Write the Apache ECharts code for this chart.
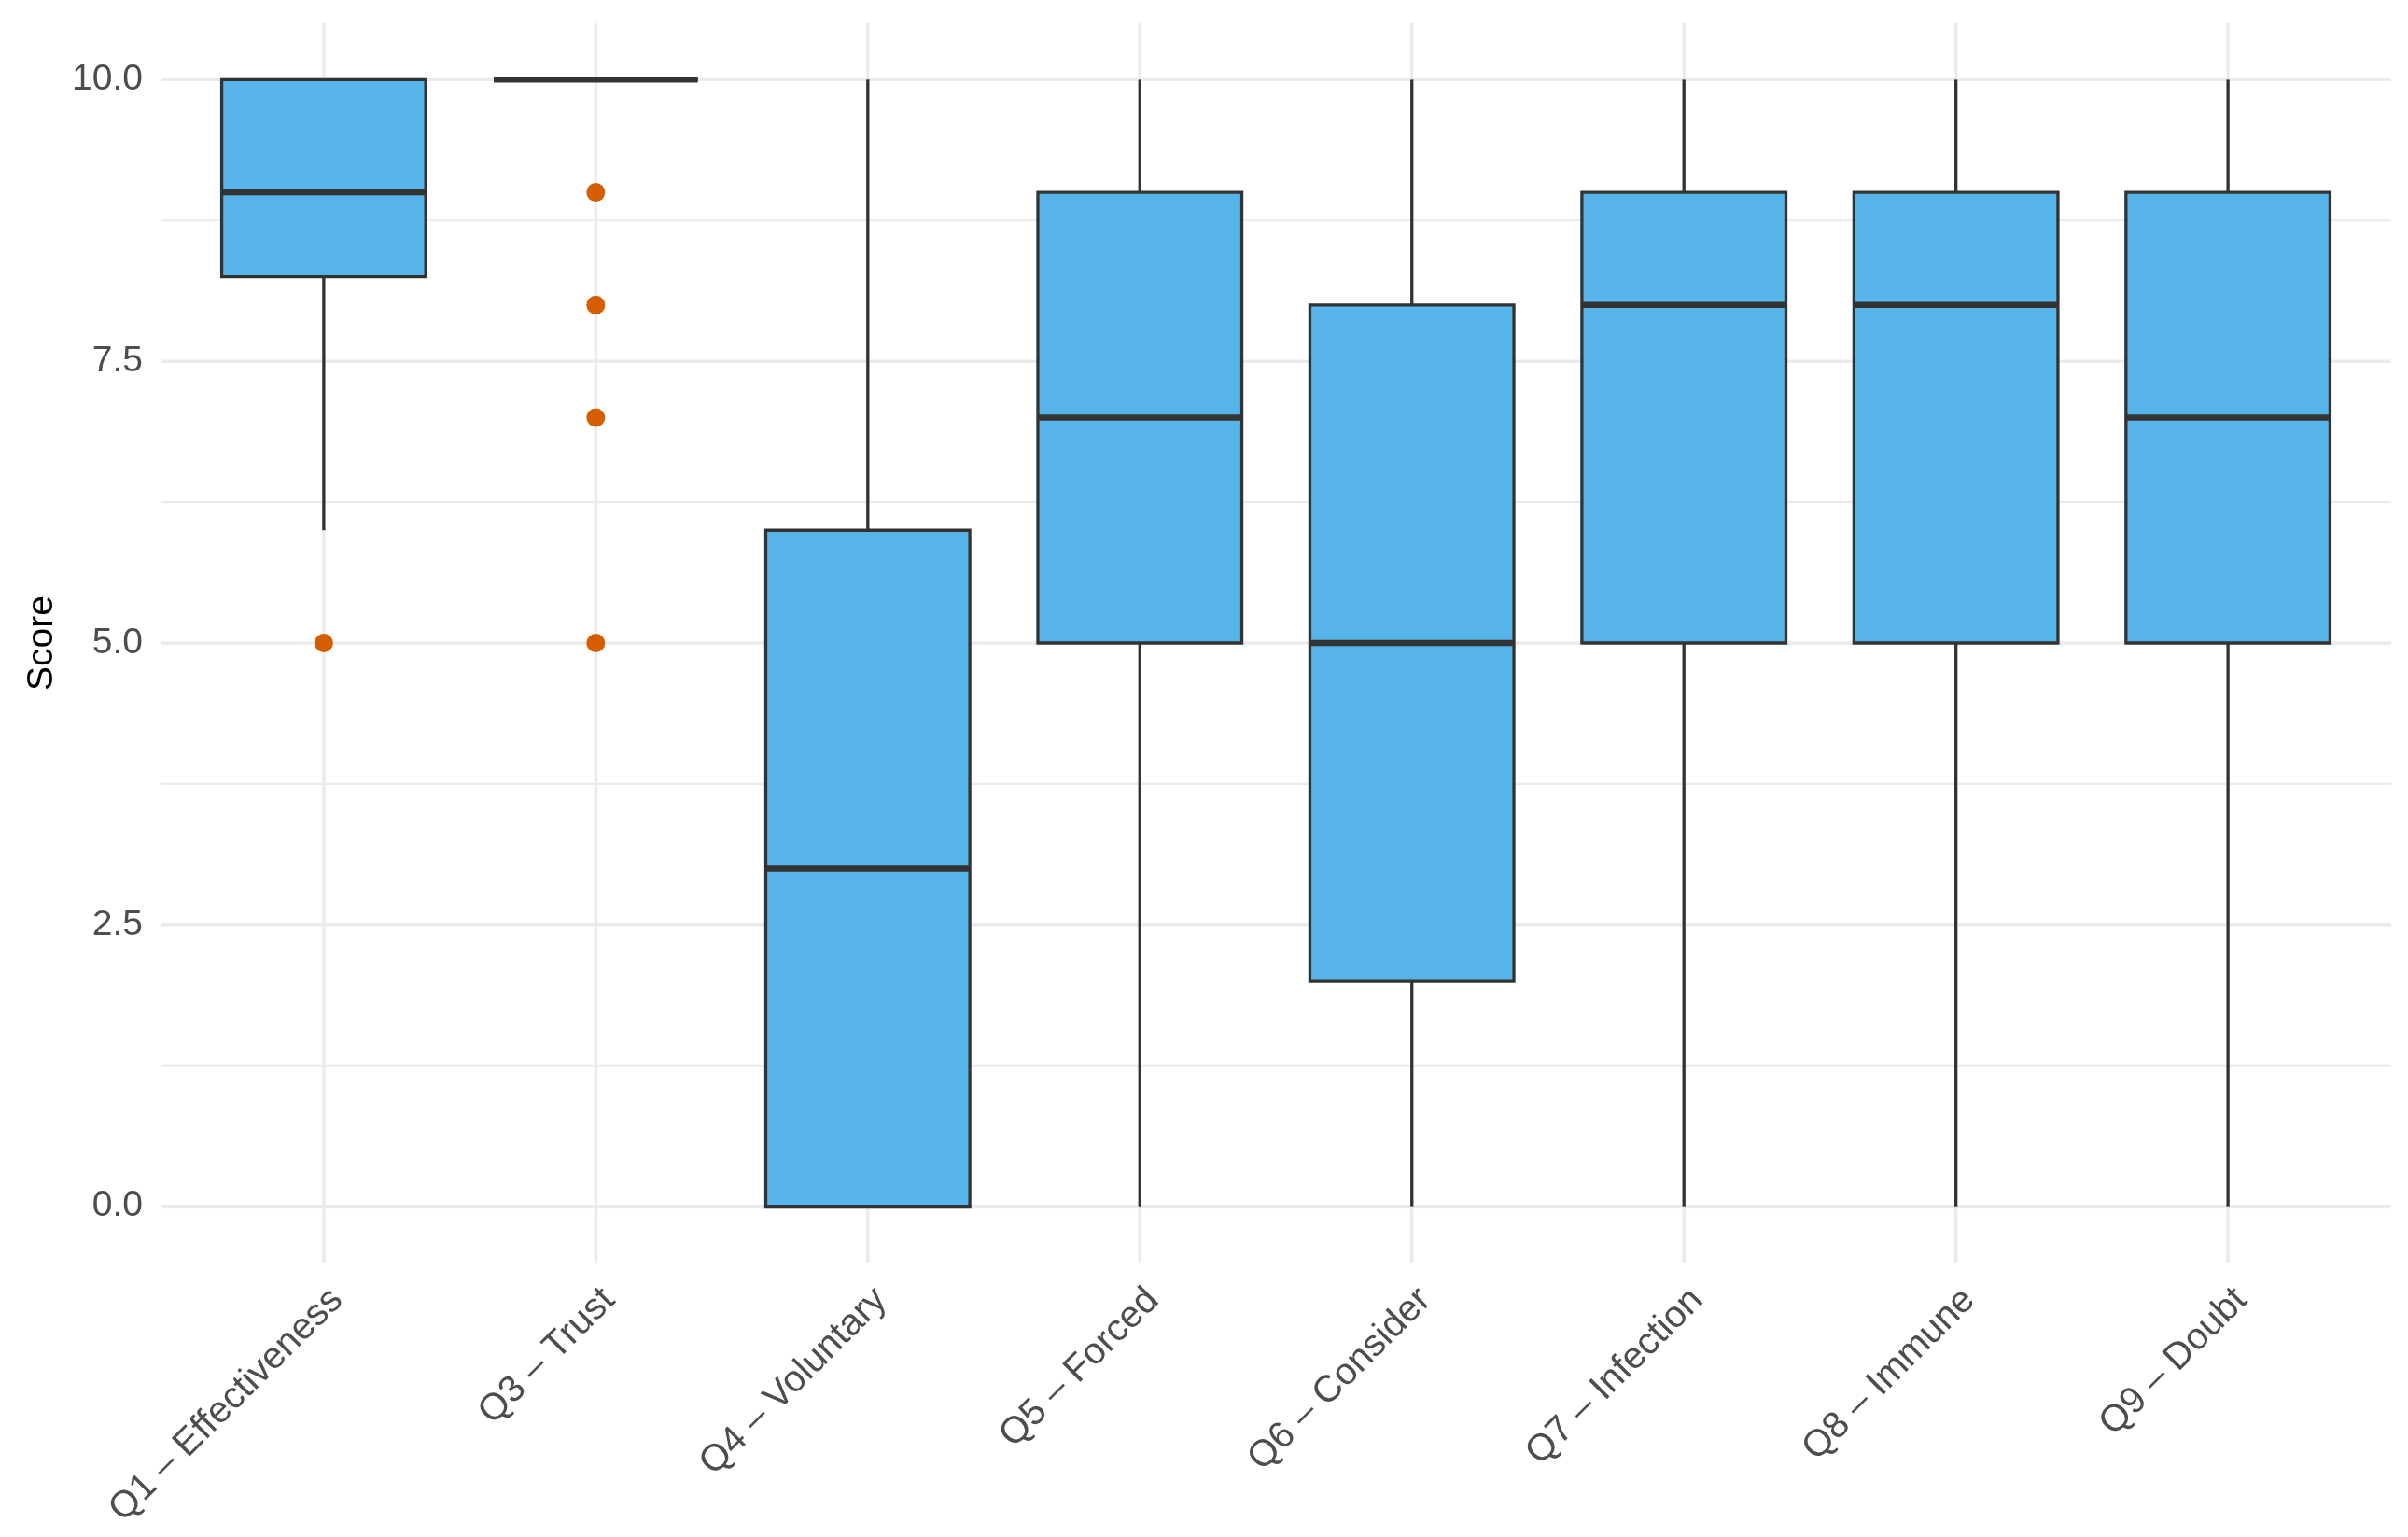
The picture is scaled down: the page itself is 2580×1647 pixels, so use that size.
<!DOCTYPE html>
<html lang="en">
<head>
    <meta charset="UTF-8">
    <title>Score by question</title>
    <script src="https://cdn.jsdelivr.net/npm/echarts@6/dist/echarts.min.js"></script>
    <style>
        html, body { margin: 0; padding: 0; background: #fff; }
        #chart { width: 2580px; height: 1647px; }
    </style>
</head>
<body>
    <div id="chart"></div>
    <script>
        const categories = ['Q1 – Effectiveness', 'Q3 – Trust', 'Q4 – Voluntary', 'Q5 – Forced',
            'Q6 – Consider', 'Q7 – Infection', 'Q8 – Immune', 'Q9 – Doubt'];
        // five-number summaries
        const lowWhisker = [6, 10, 0, 0, 0, 0, 0, 0];
        const lowerQuartile = [8.25, 10, 0, 5, 2, 5, 5, 5];
        const medians = [9, 10, 3, 7, 5, 8, 8, 7];
        const upperQuartile = [10, 10, 6, 9, 8, 9, 9, 9];
        const highWhisker = [10, 10, 10, 10, 10, 10, 10, 10];
        // outliers as [category index, score]
        const outliers = [[0, 5], [1, 9], [1, 8], [1, 7], [1, 5]];
        const majorTicks = [0, 2.5, 5, 7.5, 10];
        const minorTicks = [1.25, 3.75, 6.25, 8.75];

        const FONT = '"Liberation Sans", Arial, sans-serif';
        const EDGE = '#333333';
        const GRID = '#EBEBEB';
        const catIndex = categories.map((c, i) => i);

        const boxData = catIndex.map(i =>
            [i, lowWhisker[i], lowerQuartile[i], medians[i], upperQuartile[i], highWhisker[i]]);

        // horizontal grid line through the whole plot panel
        function hLine(width) {
            return function (params, api) {
                const cs = params.coordSys;
                const y = api.coord([0, api.value(1)])[1];
                return {
                    type: 'line',
                    shape: { x1: cs.x, y1: y, x2: cs.x + cs.width, y2: y },
                    style: { stroke: GRID, lineWidth: width }
                };
            };
        }

        const chart = echarts.init(document.getElementById('chart'));
        chart.setOption({
            animation: false,
            backgroundColor: '#ffffff',
            grid: { left: 172, right: 18, top: 25, bottom: 294 },
            xAxis: {
                type: 'value',
                min: -0.6,
                max: 7.6,
                axisLine: { show: false },
                axisTick: { show: false },
                splitLine: { show: false },
                axisLabel: {
                    customValues: catIndex,
                    formatter: v => categories[Math.round(v)],
                    rotate: 45,
                    align: 'right',
                    verticalAlign: 'top',
                    margin: 20,
                    fontSize: 40,
                    fontFamily: FONT,
                    color: '#4D4D4D'
                }
            },
            yAxis: {
                type: 'value',
                min: -0.5,
                max: 10.5,
                name: 'Score',
                nameLocation: 'middle',
                nameRotate: 90,
                nameGap: 107,
                nameTextStyle: { fontSize: 39, fontFamily: FONT, color: '#000000' },
                axisLine: { show: false },
                axisTick: { show: false },
                splitLine: { show: false },
                axisLabel: {
                    customValues: majorTicks,
                    formatter: v => v.toFixed(1),
                    margin: 19,
                    fontSize: 39,
                    fontFamily: FONT,
                    color: '#4D4D4D'
                }
            },
            series: [
                {
                    type: 'custom',
                    z: 1,
                    silent: true,
                    data: minorTicks.map(v => [0, v]),
                    renderItem: hLine(2.2)
                },
                {
                    type: 'custom',
                    z: 1,
                    silent: true,
                    data: majorTicks.map(v => [0, v]),
                    renderItem: hLine(3.4)
                },
                {
                    type: 'custom',
                    z: 1,
                    silent: true,
                    data: catIndex.map(i => [i, 0]),
                    renderItem: function (params, api) {
                        const cs = params.coordSys;
                        const x = api.coord([api.value(0), 0])[0];
                        return {
                            type: 'line',
                            shape: { x1: x, y1: cs.y, x2: x, y2: cs.y + cs.height },
                            style: { stroke: GRID, lineWidth: 3.4 }
                        };
                    }
                },
                {
                    type: 'custom',
                    z: 3,
                    data: boxData,
                    encode: { x: 0, y: [1, 2, 3, 4, 5] },
                    renderItem: function (params, api) {
                        const i = api.value(0);
                        const pMin = api.coord([i, api.value(1)]);
                        const pQ1 = api.coord([i, api.value(2)]);
                        const pMed = api.coord([i, api.value(3)]);
                        const pQ3 = api.coord([i, api.value(4)]);
                        const pMax = api.coord([i, api.value(5)]);
                        const half = api.size([1, 0])[0] * 0.75 / 2;
                        const x = pMed[0];
                        const thin = { stroke: EDGE, lineWidth: 3.3 };
                        return {
                            type: 'group',
                            children: [
                                { type: 'line', shape: { x1: x, y1: pQ1[1], x2: x, y2: pMin[1] }, style: thin },
                                { type: 'line', shape: { x1: x, y1: pQ3[1], x2: x, y2: pMax[1] }, style: thin },
                                {
                                    type: 'rect',
                                    shape: { x: x - half, y: pQ3[1], width: half * 2, height: pQ1[1] - pQ3[1] },
                                    style: { fill: '#56B4E9', stroke: EDGE, lineWidth: 3.3 }
                                },
                                {
                                    type: 'line',
                                    shape: { x1: x - half, y1: pMed[1], x2: x + half, y2: pMed[1] },
                                    style: { stroke: EDGE, lineWidth: 6.5 }
                                }
                            ]
                        };
                    }
                },
                {
                    type: 'scatter',
                    z: 4,
                    data: outliers,
                    symbolSize: 20,
                    itemStyle: { color: '#D55E00', opacity: 1 }
                }
            ]
        });
    </script>
</body>
</html>
